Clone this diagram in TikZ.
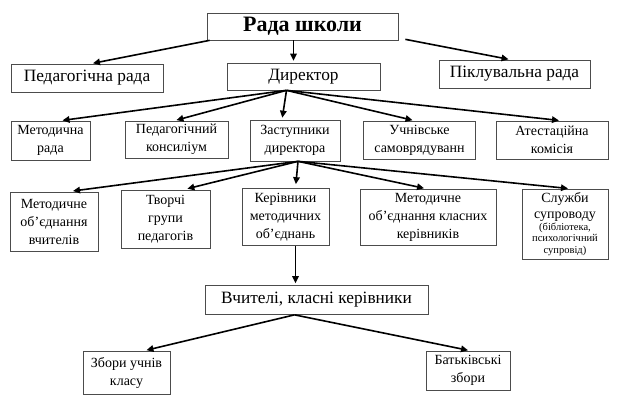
\documentclass[tikz,border=0pt]{standalone}
\usepackage{fontspec}
\setmainfont{Liberation Serif}
\usetikzlibrary{arrows.meta}

\begin{document}
\begin{tikzpicture}[
        x=1pt, y=-1pt,
        box/.style={
            draw=black!70,
            line width=0.7pt,
            fill=white,
            align=center,
            inner sep=1pt
        },
        big/.style={font=\fontsize{17.3}{20}\selectfont},
        mid/.style={font=\fontsize{14}{18}\selectfont},
        arr/.style={
            line width=1.6pt,
            -{Triangle[length=7pt,width=6.5pt]},
            shorten >=2pt
        }
    ]
    \useasboundingbox (0,0) rectangle (622,401);

    % Верхній рівень
    \node[box, minimum width=191pt, minimum height=27pt,
          font=\bfseries\fontsize{22}{24}\selectfont] (rada) at (302.5,26.5) {Рада школи};
    \node[box, big, minimum width=152pt, minimum height=28pt] (ped)  at (87,78)     {Педагогічна рада};
    \node[box, big, minimum width=153pt, minimum height=27pt] (dyr)  at (303.5,76.5) {Директор};
    \node[box, big, minimum width=151pt, minimum height=28pt] (pikl) at (514.5,74)  {Піклувальна рада};

    % Другий рівень
    \node[box, mid, minimum width=79pt,  minimum height=39pt] (metrada) at (50.5,140.5)  {Методична\\рада};
    \node[box, mid, minimum width=103pt, minimum height=37pt] (konsil)  at (176.5,139.5) {Педагогічний\\консиліум};
    \node[box, mid, minimum width=90pt,  minimum height=41pt] (zast)    at (295,140.5)   {Заступники\\директора};
    \node[box, mid, minimum width=112pt, minimum height=38pt] (uchn)    at (419.5,140)   {Учнівське\\самоврядуванн};
    \node[box, mid, minimum width=112pt, minimum height=38pt] (atest)   at (552,140)     {Атестаційна\\комісія};

    % Третій рівень
    \node[box, mid, minimum width=88pt,  minimum height=59pt] (mov)   at (54,221.5)  {Методичне\\об’єднання\\вчителів};
    \node[box, mid, minimum width=89pt,  minimum height=58pt] (tvor)  at (165.5,219) {Творчі\\групи\\педагогів};
    \node[box, mid, minimum width=87pt,  minimum height=57pt] (kerm)  at (285.5,217) {Керівники\\методичних\\об’єднань};
    \node[box, mid, minimum width=136pt, minimum height=56pt] (mokk)  at (428,217)   {Методичне\\об’єднання класних\\керівників};
    \node[box, mid, minimum width=86pt,  minimum height=70pt] (sluzh) at (565,224)
        {Служби\\[-2pt]супроводу\\[-6pt]
         \fontsize{10.5}{11}\selectfont(бібліотека,\\[-6.5pt]
         \fontsize{10.5}{11}\selectfont психологічний\\[-6.5pt]
         \fontsize{10.5}{11}\selectfont супровід)};

    % Нижній рівень
    \node[box, big, minimum width=223pt, minimum height=29pt] (vchyt) at (316.5,300)   {Вчителі, класні керівники};
    \node[box, mid, minimum width=87pt,  minimum height=43pt] (zbory) at (126.5,372.5) {Збори учнів\\класу};
    \node[box, mid, minimum width=84pt,  minimum height=39pt] (batk)  at (468,370.5)   {Батьківські\\збори};

    % Точки виходу стрілок
    \coordinate (dout) at ([xshift=-17pt]dyr.south);
    \coordinate (zout) at ([xshift=3pt]zast.south);

    % Стрілки
    \draw[arr] ([xshift=3pt]rada.south west) -- ([xshift=4pt]ped.north);
    \draw[arr] ([xshift=-9pt]rada.south) -- ([xshift=-10pt]dyr.north);
    \draw[arr] ([xshift=7pt,yshift=1pt]rada.south east) -- ([xshift=-4pt]pikl.north);

    \draw[arr] (dout) -- ([xshift=10pt]metrada.north);
    \draw[arr] (dout) -- ([xshift=-2pt]konsil.north);
    \draw[arr] (dout) -- ([xshift=-13pt]zast.north);
    \draw[arr] (dout) -- ([xshift=-5pt]uchn.north);
    \draw[arr] (dout) -- ([xshift=9pt]atest.north);

    \draw[arr, shorten >=5pt] (zout) -- ([xshift=14pt]mov.north);
    \draw[arr, shorten >=4pt] (zout) -- ([xshift=18pt]tvor.north);
    \draw[arr, shorten >=4pt] (zout) -- ([xshift=10pt]kerm.north);
    \draw[arr] (zout) -- ([xshift=-2pt]mokk.north);
    \draw[arr] (zout) -- ([xshift=5pt]sluzh.north);

    \draw[arr] ([xshift=10pt]kerm.south) -- ([xshift=-21pt]vchyt.north);
    \draw[arr] ([xshift=-22pt]vchyt.south) -- ([xshift=18pt]zbory.north);
    \draw[arr] ([xshift=-22pt]vchyt.south) -- ([xshift=2pt]batk.north);

\end{tikzpicture}
\end{document}
